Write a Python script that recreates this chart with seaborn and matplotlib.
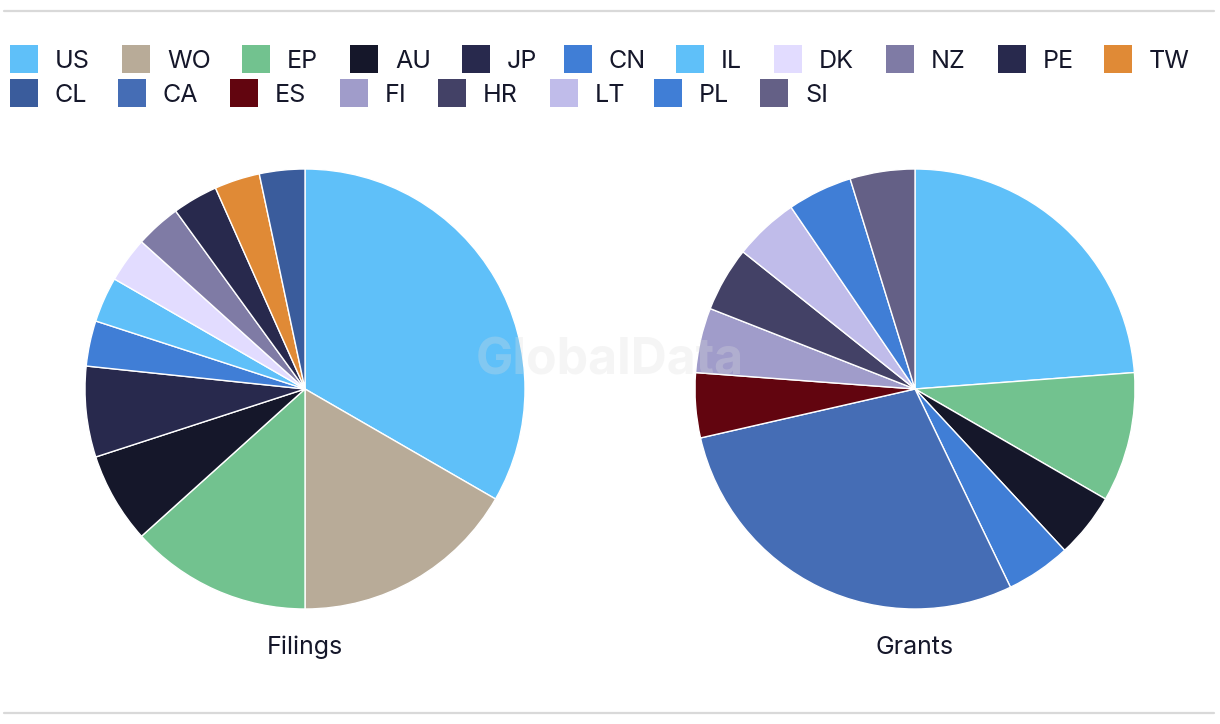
import matplotlib
matplotlib.use("Agg")
import matplotlib.pyplot as plt
import seaborn as sns
from matplotlib.patches import Rectangle
from matplotlib.lines import Line2D

sns.set_theme(style="white")
plt.rcParams['font.family'] = ['Inter', 'DejaVu Sans']

# ---- data ----
legend_codes = ["US", "WO", "EP", "AU", "JP", "CN", "IL", "DK", "NZ", "PE", "TW",
                "CL", "CA", "ES", "FI", "HR", "LT", "PL", "SI"]
legend_colors = ["#5FC0F9", "#B8AB98", "#72C28F", "#15172A", "#28294D", "#407ED6",
                 "#5FC0F9", "#E2DCFF", "#7F7BA5", "#28294D", "#E08A36",
                 "#3A5C9C", "#456DB5", "#62050F", "#A09CCA", "#434166", "#C0BCEA",
                 "#407ED6", "#646086"]
color_of = dict(zip(legend_codes, legend_colors))

filings_codes = ["US", "WO", "EP", "AU", "JP", "CN", "IL", "DK", "NZ", "PE", "TW", "CL"]
filings_values = [10, 5, 4, 2, 2, 1, 1, 1, 1, 1, 1, 1]

grants_codes = ["US", "EP", "AU", "CN", "CA", "ES", "FI", "HR", "LT", "PL", "SI"]
grants_values = [5, 2, 1, 1, 6, 1, 1, 1, 1, 1, 1]

pie_titles = ["Filings", "Grants"]

# ---- figure ----
W, H = 1220, 724
fig = plt.figure(figsize=(W / 100, H / 100), dpi=100)
fig.patch.set_facecolor("white")

def fx(px):
    return px / W

def fy(py):
    return 1 - py / H

text_color = "#15172A"

# top / bottom rules
for y in (11, 713):
    fig.add_artist(Line2D([fx(4), fx(1214)], [fy(y), fy(y)], color="#D9D9D9", lw=1.6,
                          transform=fig.transFigure))

# legend (flowing layout)
row1_x = [10, 122, 242, 350, 462, 564, 676, 774, 886, 998, 1104]
row2_x = [10, 118, 230, 340, 438, 550, 654, 760]
positions = [(x, 45) for x in row1_x] + [(x, 79) for x in row2_x]
for code, (x, y) in zip(legend_codes, positions):
    fig.add_artist(Rectangle((fx(x), fy(y + 28)), 28 / W, 28 / H,
                             transform=fig.transFigure, facecolor=color_of[code],
                             edgecolor="none"))
    fig.text(fx(x + 45), fy(y + 16.5), code, fontsize=18, color=text_color,
             va="center", ha="left")

# pies
R = 220
centers = [(305, 389), (915, 389)]
datasets = [(filings_codes, filings_values), (grants_codes, grants_values)]
for (cx, cy), (codes, vals), title in zip(centers, datasets, pie_titles):
    ax = fig.add_axes([fx(cx - R), fy(cy + R), 2 * R / W, 2 * R / H])
    ax.pie(vals, colors=[color_of[c] for c in codes], startangle=90,
           counterclock=False, radius=1.0,
           wedgeprops=dict(edgecolor="white", linewidth=1.0))
    ax.set_xlim(-1, 1)
    ax.set_ylim(-1, 1)
    ax.set_aspect("equal")
    ax.axis("off")
    fig.text(fx(cx), fy(647.5), title, fontsize=18, color=text_color,
             ha="center", va="center")

# watermark
fig.text(fx(610), fy(361), "GlobalData", fontsize=36, fontweight="bold",
         color="#DDDDDD", alpha=0.28, ha="center", va="center", zorder=10)

fig.savefig("out.png", dpi=100, facecolor="white")
